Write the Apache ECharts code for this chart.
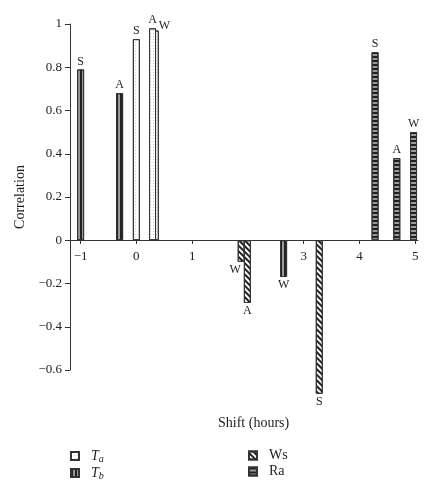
<!DOCTYPE html>
<html>
<head>
<meta charset="utf-8">
<script src="https://cdn.jsdelivr.net/npm/echarts@6/dist/echarts.min.js"></script>
<style>
  html, body { margin: 0; padding: 0; background: #fff; }
  #chart { width: 437px; height: 500px; }
</style>
</head>
<body>
<div id="chart"></div>
<script>
// shift (hours), correlation and label of every bar, per variable
const taShift = [0, 0.34, 0.29];
const taCorr = [0.93, 0.97, 0.98];
const taTag = ['S', 'W', 'A'];

const tbShift = [-1, -0.3, 2.64];
const tbCorr = [0.79, 0.68, -0.17];
const tbTag = ['S', 'A', 'W'];

const wsShift = [1.88, 1.99, 3.28];
const wsCorr = [-0.10, -0.29, -0.71];
const wsTag = ['W', 'A', 'S'];

const raShift = [4.28, 4.67, 4.97];
const raCorr = [0.87, 0.38, 0.50];
const raTag = ['S', 'A', 'W'];

const xTicks = [-1, 0, 1, 2, 3, 4, 5];

const serif = 'Liberation Serif';
const ink = '#333';

// label nudges for the two bars that sit on top of a neighbour
const tagShift = { 'Ta-W': [9, 3], 'Ws-W': [-6, 0] };

function toMinus(v) {
    return String(v).replace('-', '\u2212');
}

function buildData(name, xs, ys, tags) {
    return xs.map((x, i) => ({
        value: [x, ys[i]],
        label: {
            formatter: tags[i],
            position: ys[i] < 0 ? 'bottom' : 'top',
            offset: tagShift[name + '-' + tags[i]] || [0, 0]
        }
    }));
}

const decals = {
    Ta: { symbol: 'rect', color: '#cfcfcf', dashArrayX: [1, 2], dashArrayY: [1, 2] },
    Tb: { symbol: 'rect', color: '#222', dashArrayX: [1.2, 1.3], dashArrayY: [1, 0] },
    Ws: { symbol: 'rect', color: '#222', dashArrayX: [1, 0], dashArrayY: [1.3, 2], rotation: Math.PI / 4 },
    Ra: { symbol: 'rect', color: '#222', dashArrayX: [1, 0], dashArrayY: [1.2, 1.3] }
};

function barSeries(name, xs, ys, tags) {
    return {
        name: name,
        type: 'bar',
        barWidth: 7,
        barGap: '-100%',
        clip: false,
        data: buildData(name, xs, ys, tags),
        itemStyle: {
            color: name === 'Tb' || name === 'Ra' ? '#9a9a9a' : '#fff',
            borderColor: ink,
            borderWidth: 1,
            decal: decals[name]
        },
        label: {
            show: true,
            distance: 2,
            fontFamily: serif,
            fontSize: 12,
            color: '#222'
        }
    };
}

const legendText = {
    Ta: '{i|T}{s|a}',
    Tb: '{i|T}{s|b}',
    Ws: 'Ws',
    Ra: 'Ra'
};

const legendStyle = {
    orient: 'vertical',
    top: 443,
    itemWidth: 8,
    itemHeight: 8,
    itemGap: 1,
    icon: 'rect',
    formatter: n => legendText[n],
    textStyle: {
        fontFamily: serif,
        fontSize: 14,
        lineHeight: 15,
        color: '#222',
        padding: [0, 0, 0, 7],
        rich: {
            i: { fontFamily: serif, fontSize: 14, lineHeight: 15, fontStyle: 'italic', color: '#222' },
            s: { fontFamily: serif, fontSize: 10, lineHeight: 15, fontStyle: 'italic', color: '#222', padding: [6, 0, 0, 0] }
        }
    }
};

const chart = echarts.init(document.getElementById('chart'));
chart.setOption({
    animation: false,
    backgroundColor: '#fff',
    textStyle: { fontFamily: serif },
    grid: { left: 70, right: 19, top: 24, bottom: 130, containLabel: false },
    title: {
        text: 'Shift (hours)',
        left: 213,
        top: 411,
        textStyle: { fontFamily: serif, fontSize: 14, fontWeight: 'normal', color: '#222' }
    },
    legend: [
        Object.assign({ left: 65, data: ['Ta', 'Tb'] }, legendStyle),
        Object.assign({ left: 243, data: ['Ws', 'Ra'] }, legendStyle)
    ],
    xAxis: {
        type: 'value',
        min: -1.19,
        max: 5.05,
        // the horizontal axis sits on the zero line of the correlation scale
        offset: -130,
        axisLine: { onZero: false, lineStyle: { color: ink, width: 1 } },
        axisTick: { show: true, length: 4, customValues: xTicks, lineStyle: { color: ink } },
        axisLabel: {
            customValues: xTicks,
            margin: 10,
            fontFamily: serif,
            fontSize: 13,
            color: '#222',
            formatter: toMinus
        },
        splitLine: { show: false }
    },
    yAxis: {
        type: 'value',
        min: -0.6,
        max: 1,
        interval: 0.2,
        name: 'Correlation',
        nameLocation: 'middle',
        nameGap: 34,
        nameTextStyle: { fontFamily: serif, fontSize: 14, color: '#222' },
        axisLine: { show: true, onZero: false, lineStyle: { color: ink, width: 1 } },
        axisTick: { show: true, length: 5, lineStyle: { color: ink } },
        axisLabel: {
            margin: 8,
            fontFamily: serif,
            fontSize: 13,
            color: '#222',
            formatter: v => toMinus(Math.round(v * 10) / 10)
        },
        splitLine: { show: false }
    },
    series: [
        barSeries('Ta', taShift, taCorr, taTag),
        barSeries('Tb', tbShift, tbCorr, tbTag),
        barSeries('Ws', wsShift, wsCorr, wsTag),
        barSeries('Ra', raShift, raCorr, raTag)
    ]
});
</script>
</body>
</html>
